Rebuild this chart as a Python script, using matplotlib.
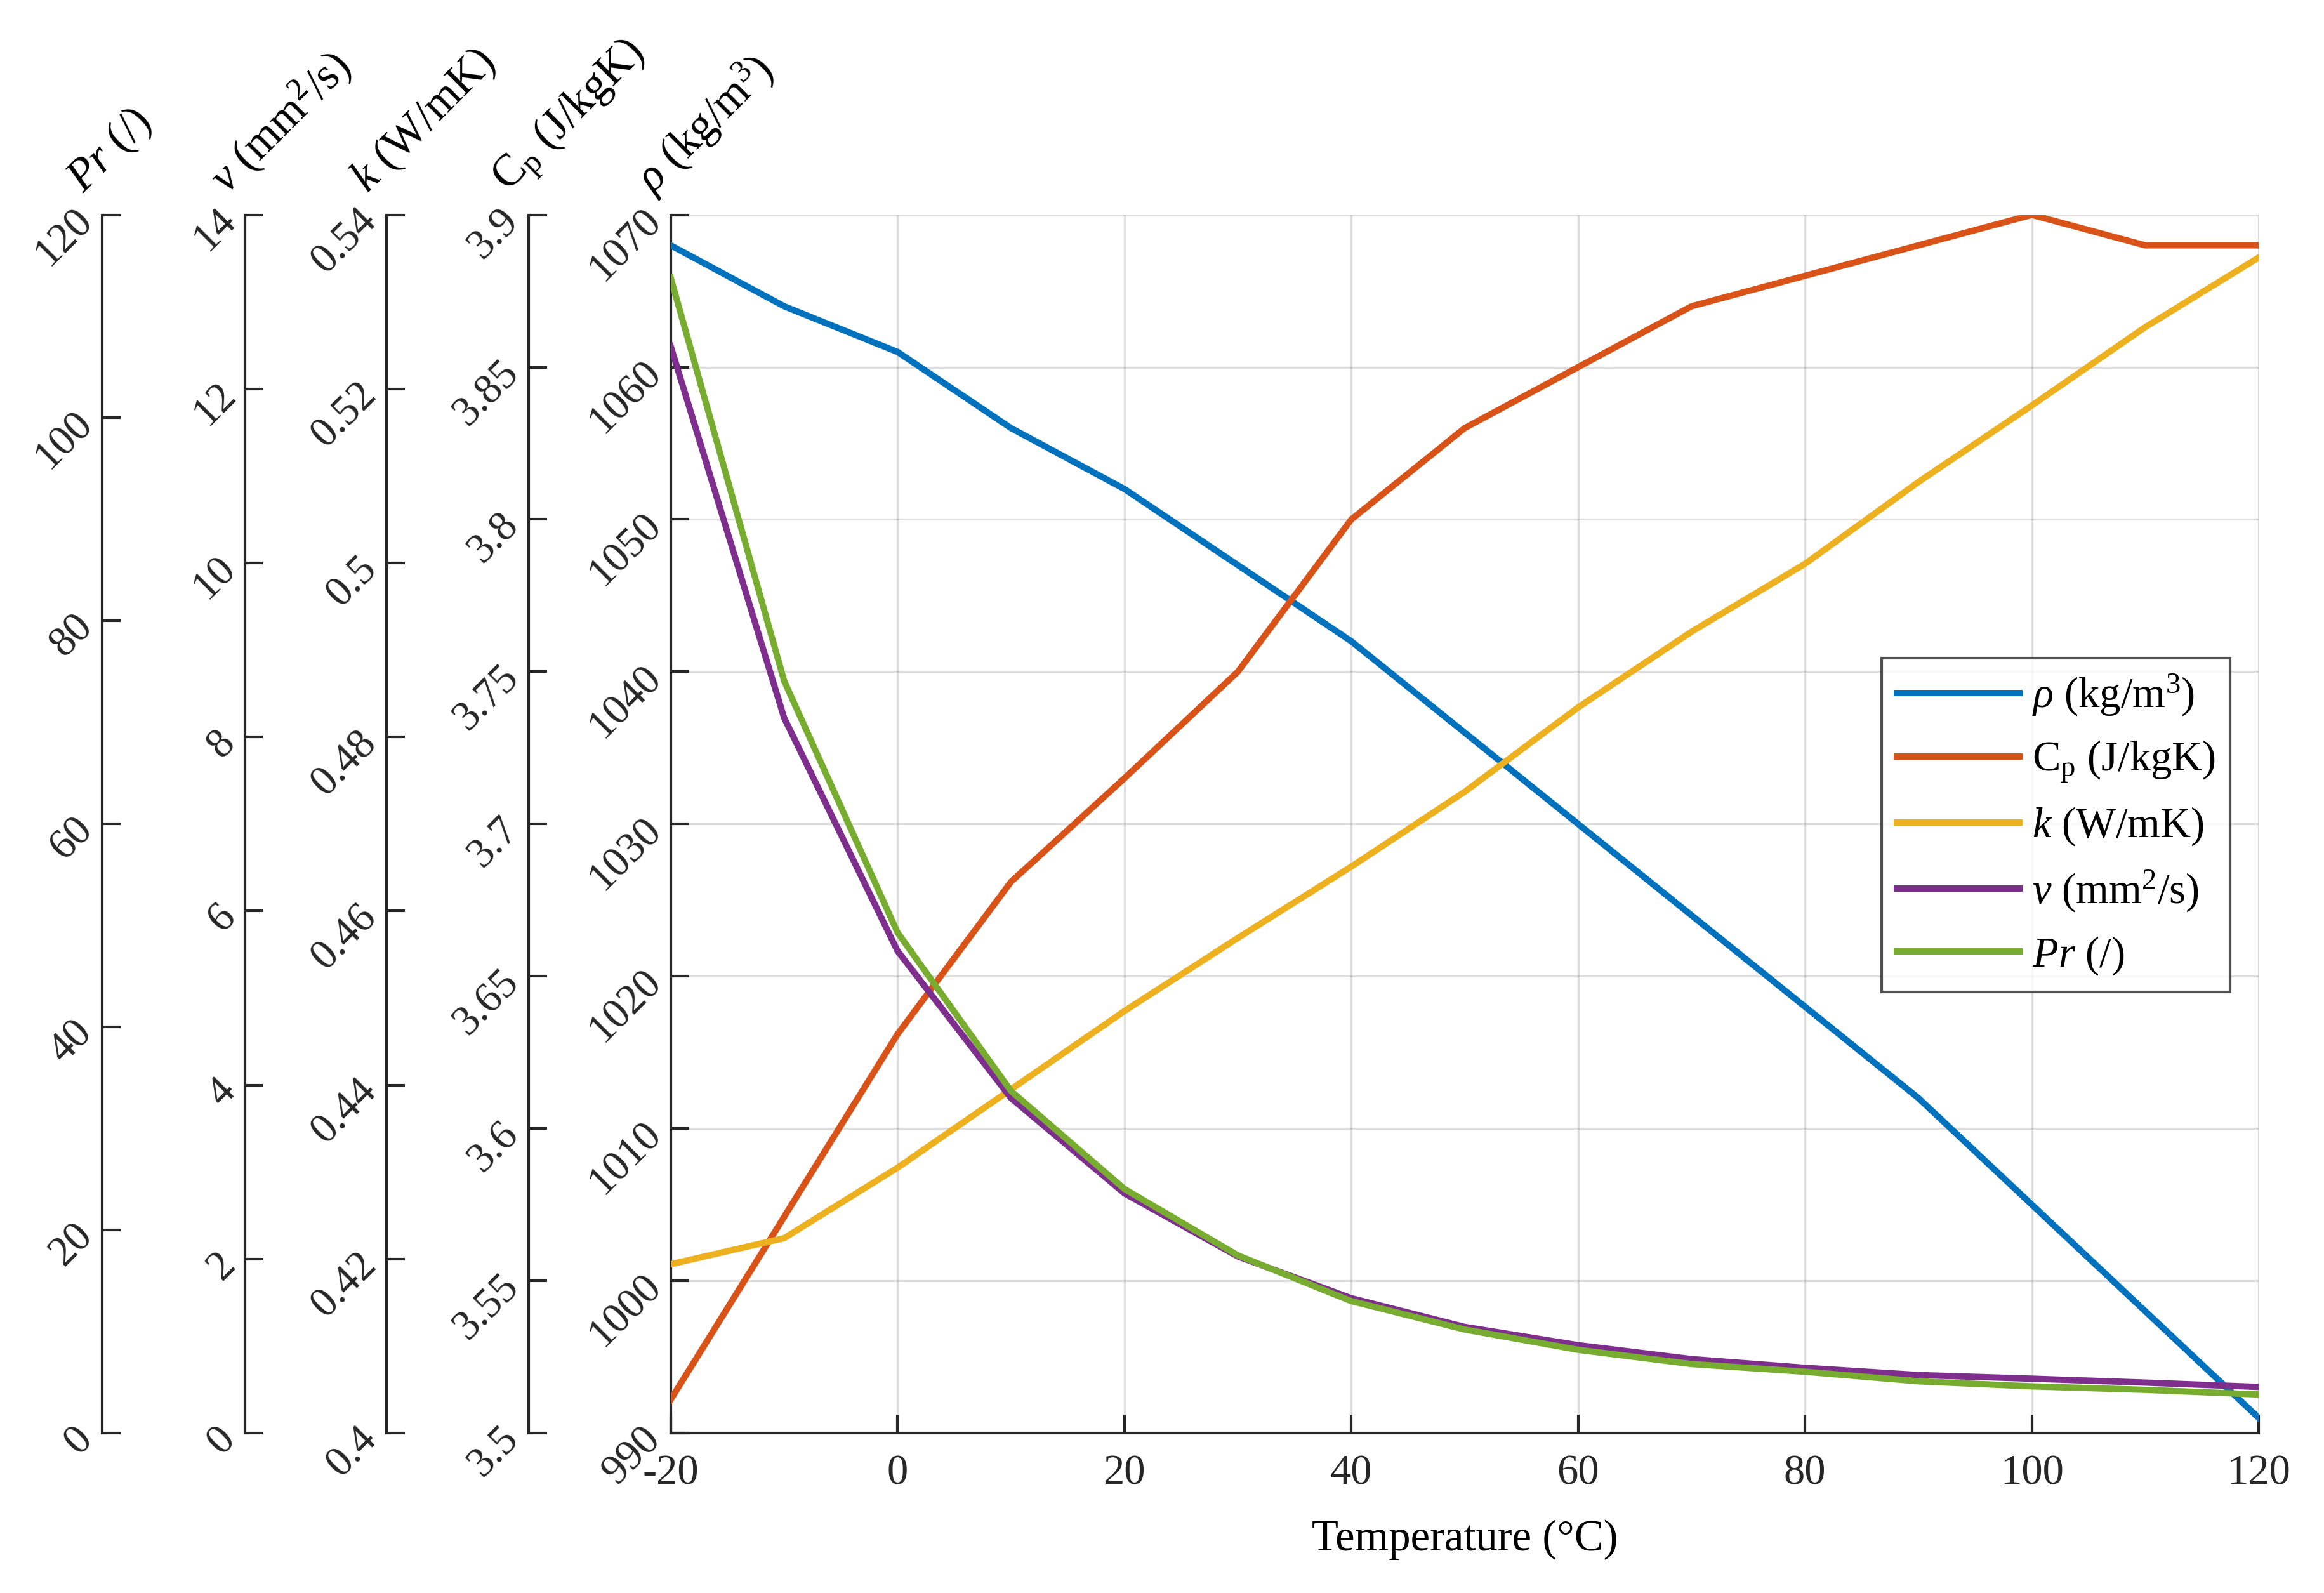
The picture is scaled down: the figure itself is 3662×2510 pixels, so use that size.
import matplotlib
matplotlib.use("Agg")
import matplotlib.pyplot as plt
import numpy as np

plt.rcParams['font.family'] = ['Liberation Serif', 'DejaVu Serif']
plt.rcParams['mathtext.fontset'] = 'custom'
plt.rcParams['mathtext.rm'] = 'Liberation Serif'
plt.rcParams['mathtext.it'] = 'Liberation Serif:italic'
plt.rcParams['axes.unicode_minus'] = False
plt.rcParams['font.size'] = 16

# data
temperatura = [-20, -10, 0, 10, 20, 30, 40, 50, 60, 70, 80, 90, 100, 110, 120]
rho = [1068, 1064, 1061, 1056, 1052, 1047, 1042, 1036, 1030, 1024, 1018, 1012, 1005, 998, 991]
cp = [3.511, 3.571, 3.631, 3.681, 3.715, 3.75, 3.80, 3.83, 3.85, 3.87, 3.88, 3.89, 3.90, 3.89, 3.89]
k = [0.4194, 0.4224, 0.4305, 0.4395, 0.4485, 0.4569, 0.4651, 0.4737, 0.4834, 0.4921,
     0.4999, 0.5093, 0.5181, 0.5271, 0.5351]
nu = [12.49, 8.22, 5.54, 3.85, 2.755, 2.03, 1.55, 1.22, 1.01, 0.85, 0.75, 0.667, 0.625, 0.58, 0.53]
pr = [113.8, 74.1, 49.3, 33.7, 24.05, 17.5, 13.0, 10.2, 8.2, 6.8, 6.04, 5.1, 4.6, 4.26, 3.8]

x_ticks = [-20, 0, 20, 40, 60, 80, 100, 120]
rho_ticks = np.arange(990, 1071, 10)
cp_ticks = [3.5, 3.55, 3.6, 3.65, 3.7, 3.75, 3.8, 3.85, 3.9]
k_ticks = [0.4, 0.42, 0.44, 0.46, 0.48, 0.5, 0.52, 0.54]
nu_ticks = [0, 2, 4, 6, 8, 10, 12, 14]
pr_ticks = [0, 20, 40, 60, 80, 100, 120]

cores = ['#0072BD', '#D95319', '#EDB120', '#7E2F8E', '#77AC30']
rotulos = [r'$\rho$ (kg/m$^3$)', r'C$_{\mathrm{p}}$ (J/kgK)', r'$k$ (W/mK)',
           r'$\nu$ (mm$^2$/s)', r'$Pr$ (/)']

cor_eixo = '#262626'
lw = 2.4

fig = plt.figure(figsize=(3662 / 300, 2510 / 300), dpi=300)
ax = fig.add_axes([0.2886, 0.1004, 0.9719 - 0.2886, 0.8651 - 0.1004])


def estilo_eixo_y(eixo, ticks):
    eixo.set_yticks(ticks)
    eixo.set_yticklabels([f"{t:g}" for t in ticks])
    eixo.tick_params(axis='y', direction='in', length=7, width=1, colors=cor_eixo,
                     labelsize=16, pad=6, left=True, right=False,
                     labelleft=True, labelright=False)
    for lab in eixo.get_yticklabels():
        lab.set_rotation(45)
        lab.set_rotation_mode('anchor')
        lab.set_ha('right')
        lab.set_va('center')


# eixo principal (densidade)
l_rho, = ax.plot(temperatura, rho, color=cores[0], lw=lw, zorder=5)
ax.set_xlim(-20, 120)
ax.set_ylim(990, 1070)
ax.set_xticks(x_ticks)
ax.set_xticklabels([f"{t:g}" for t in x_ticks])
ax.tick_params(axis='x', direction='in', length=7, width=1, colors=cor_eixo, labelsize=16, pad=8)
estilo_eixo_y(ax, rho_ticks)
ax.grid(True, color='#262626', alpha=0.15, lw=0.8)
ax.spines['top'].set_visible(False)
ax.spines['right'].set_visible(False)
for s in ['left', 'bottom']:
    ax.spines[s].set_color(cor_eixo)
    ax.spines[s].set_linewidth(1.0)
ax.set_xlabel('Temperature (°C)', fontsize=16.5, labelpad=10, color='black')

# eixos extras deslocados para a esquerda
extras = [
    (cp, (3.5, 3.9), cp_ticks, cores[1], rotulos[1], -0.0895),
    (k, (0.4, 0.54), k_ticks, cores[2], rotulos[2], -0.179),
    (nu, (0, 14), nu_ticks, cores[3], rotulos[3], -0.268),
    (pr, (0, 120), pr_ticks, cores[4], rotulos[4], -0.358),
]

linhas = [l_rho]
eixos_label = [(ax, rotulos[0], 0.0)]
for valores, lims, ticks, cor, rot, pos in extras:
    a = ax.twinx()
    a.spines['right'].set_visible(False)
    a.spines['top'].set_visible(False)
    a.spines['bottom'].set_visible(False)
    a.spines['left'].set_visible(True)
    a.spines['left'].set_position(('axes', pos))
    a.spines['left'].set_color(cor_eixo)
    a.spines['left'].set_linewidth(1.0)
    a.yaxis.set_ticks_position('left')
    a.set_ylim(*lims)
    estilo_eixo_y(a, ticks)
    ln, = a.plot(temperatura, valores, color=cor, lw=lw, zorder=5)
    linhas.append(ln)
    eixos_label.append((a, rot, pos))

# rotulos dos eixos no topo, inclinados
for a, rot, pos in eixos_label:
    ax.text(pos - 0.017, 1.024, rot, transform=ax.transAxes, rotation=45,
            rotation_mode='anchor', ha='left', va='center', fontsize=17, color='black')

leg = fig.legend(linhas, rotulos, loc='upper right', bbox_to_anchor=(0.9597, 0.5869),
                 bbox_transform=fig.transFigure, fontsize=16, frameon=True, fancybox=False,
                 edgecolor=cor_eixo, handlelength=2.9, labelspacing=0.5, borderpad=0.35,
                 handletextpad=0.3, borderaxespad=0.0)
leg.get_frame().set_linewidth(1.0)

fig.savefig('out.png', dpi=300)
